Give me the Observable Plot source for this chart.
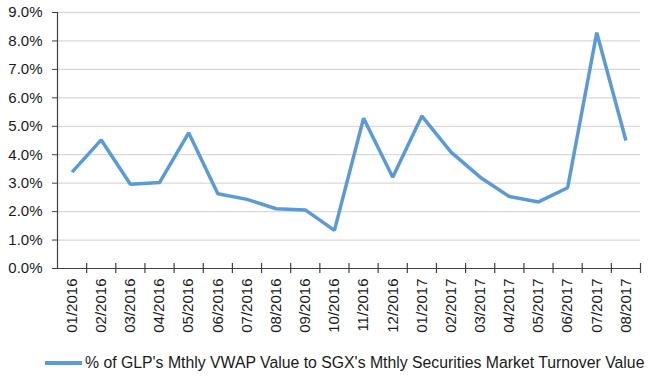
<!DOCTYPE html>
<html>
<head>
<meta charset="utf-8">
<script src="https://cdn.jsdelivr.net/npm/d3@7"></script>
<script src="https://cdn.jsdelivr.net/npm/@observablehq/plot@0.6"></script>
<style>
  html, body { margin: 0; padding: 0; background: #fff; }
  #chart { width: 658px; height: 380px; position: relative; font-family: "Liberation Sans", Arial, sans-serif; }
  #legend { position: absolute; left: 0; top: 342px; width: 658px; height: 38px; }
  #legend .sw { position: absolute; left: 45px; top: 19px; width: 37px; height: 3.5px; background: #5B9BD5; }
  #legend .lbl { position: absolute; left: 85px; top: 12px; font-size: 15.8px; color: #1a1a1a; white-space: nowrap; line-height: 17px; }
</style>
</head>
<body>
<div id="chart"></div>
<script>
const months = ["01/2016","02/2016","03/2016","04/2016","05/2016","06/2016","07/2016","08/2016","09/2016","10/2016","11/2016","12/2016","01/2017","02/2017","03/2017","04/2017","05/2017","06/2017","07/2017","08/2017"];
const values = [0.0339,0.0452,0.0296,0.0302,0.0477,0.0263,0.0243,0.0210,0.0206,0.0134,0.0528,0.0321,0.0536,0.0409,0.0321,0.0253,0.0234,0.0284,0.0829,0.0450];
const yTicks = [0,0.01,0.02,0.03,0.04,0.05,0.06,0.07,0.08,0.09];
const seriesName = "% of GLP's Mthly VWAP Value to SGX's Mthly Securities Market Turnover Value";

const data = months.map((m, i) => ({i, m, v: values[i]}));
const bounds = d3.range(months.length + 1).map(k => k - 0.5);
const ink = "#1a1a1a";
const axisColor = "#404040";

const plot = Plot.plot({
  width: 658,
  height: 342,
  marginLeft: 57,
  marginRight: 18,
  marginTop: 12,
  marginBottom: 74,
  style: {fontFamily: "'Liberation Sans', Arial, sans-serif", fontSize: "15px", color: ink, background: "#fff", overflow: "visible"},
  x: {domain: [-0.5, months.length - 0.5], axis: null},
  y: {domain: [0, 0.09], axis: null, label: null},
  marks: [
    Plot.gridY(yTicks.slice(1), {stroke: "#d9d9d9", strokeOpacity: 1, strokeWidth: 1.3}),
    Plot.axisY(yTicks, {label: null, tickFormat: d3.format(".1%"), tickSize: 5, tickPadding: 10, stroke: axisColor, fill: ink, fontSize: 15}),
    Plot.ruleX([-0.5], {y1: 0, y2: 0.09, stroke: axisColor, strokeWidth: 1.2}),
    Plot.ruleY([0], {stroke: axisColor, strokeWidth: 1.2}),
    Plot.ruleX(bounds.slice(1), {y1: 0, y2: 0, insetTop: -5, insetBottom: -5, stroke: axisColor, strokeWidth: 1.2}),
    Plot.text(data, {x: "i", y: 0, text: "m", rotate: -90, textAnchor: "end", lineAnchor: "middle", dy: 10, fill: ink, fontSize: 15}),
    Plot.line(data, {x: "i", y: "v", stroke: "#5B9BD5", strokeWidth: 3.5, strokeLinejoin: "miter", strokeLinecap: "butt"})
  ]
});
const chart = document.getElementById("chart");
chart.appendChild(plot);
const legend = document.createElement("div");
legend.id = "legend";
legend.innerHTML = '<div class="sw"></div><div class="lbl"></div>';
legend.querySelector(".lbl").textContent = seriesName;
chart.appendChild(legend);
</script>
</body>
</html>
